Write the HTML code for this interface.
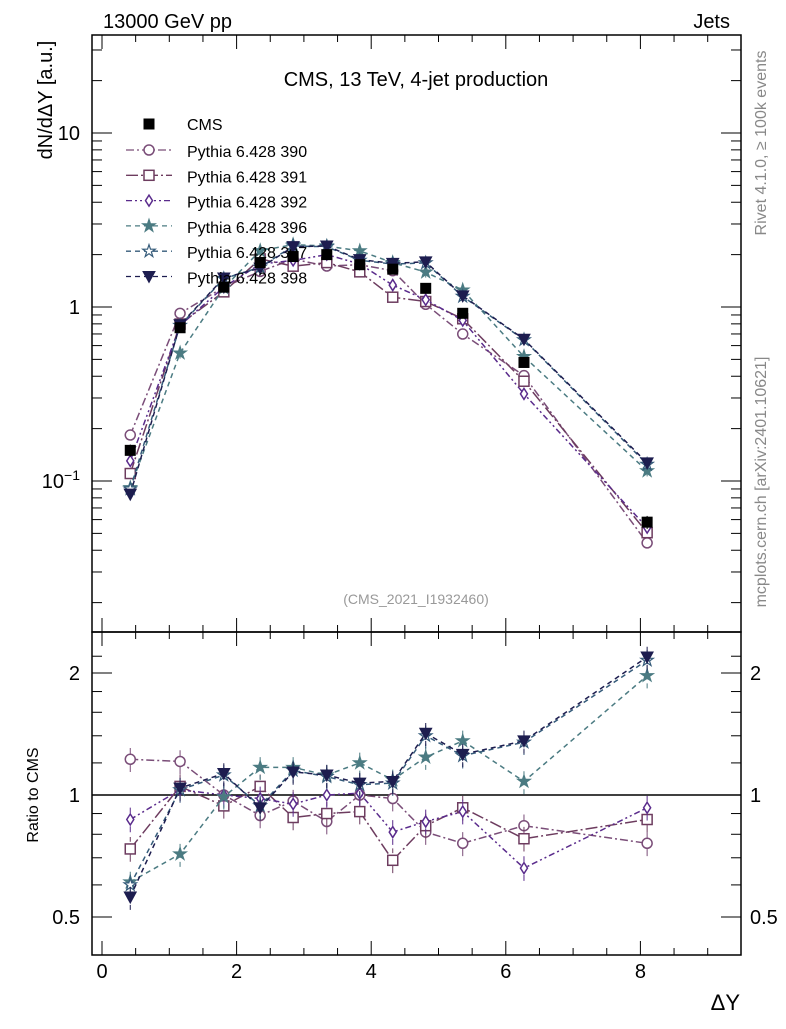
<!DOCTYPE html>
<html><head><meta charset="utf-8"><style>
body{margin:0;background:#fff}
svg text{font-family:"Liberation Sans",sans-serif}
</style></head><body>
<svg id="c" width="786" height="1024" xmlns="http://www.w3.org/2000/svg">
<rect x="0" y="0" width="786" height="1024" fill="#fff"/>
<text x="103" y="28" font-size="20">13000 GeV pp</text>
<text x="730" y="28" font-size="20" text-anchor="end">Jets</text>
<text x="416" y="86" font-size="20" text-anchor="middle">CMS, 13 TeV, 4-jet production</text>
<text x="416" y="604" font-size="14" fill="#999" text-anchor="middle">(CMS_2021_I1932460)</text>
<text transform="translate(52,100) rotate(-90)" font-size="20" text-anchor="middle">dN/dΔY [a.u.]</text>
<text transform="translate(38,795) rotate(-90)" font-size="16" text-anchor="middle">Ratio to CMS</text>
<text x="740" y="1010" font-size="22" text-anchor="end">ΔY</text>
<text transform="translate(766,143) rotate(-90)" font-size="16" fill="#888" text-anchor="middle">Rivet 4.1.0, ≥ 100k events</text>
<text transform="translate(766,482) rotate(-90)" font-size="16" fill="#888" text-anchor="middle">mcplots.cern.ch [arXiv:2401.10621]</text>
<g id="g"></g>
</svg>
<script>
const xs=[0.42,1.16,1.81,2.35,2.84,3.34,3.83,4.32,4.81,5.36,6.27,8.1];
const cms=[0.15,0.76,1.3,1.8,1.95,2.0,1.75,1.65,1.28,0.92,0.48,0.058];
const cmsErr=[0.012,0.05,0.06,0.08,0.08,0.08,0.08,0.08,0.06,0.05,0.03,0.005];
const r390=[1.225,1.21,1.0,0.89,0.966,0.86,1.0,0.98,0.81,0.76,0.84,0.76];
const r391=[0.736,1.05,0.94,1.05,0.88,0.9,0.91,0.69,0.84,0.93,0.78,0.87];
const r392=[0.87,1.03,1.0,0.98,0.95,1.0,1.01,0.81,0.86,0.91,0.66,0.93];
const r396=[0.61,0.715,0.99,1.17,1.17,1.12,1.2,1.09,1.24,1.36,1.08,1.97];
const r397=[0.6,1.03,1.12,0.94,1.15,1.11,1.06,1.07,1.4,1.25,1.35,2.15];
const r398=[0.56,1.04,1.13,0.93,1.14,1.12,1.07,1.08,1.42,1.26,1.36,2.19];
const series=[
 {n:"Pythia 6.428 390",r:r390,c:"#7a4d78",d:"8,3,2,3",m:"circle"},
 {n:"Pythia 6.428 391",r:r391,c:"#6d3c5f",d:"12,3,2,3",m:"square"},
 {n:"Pythia 6.428 392",r:r392,c:"#5a2b8c",d:"6,3,2,3,2,3",m:"diamond"},
 {n:"Pythia 6.428 396",r:r396,c:"#4b7b82",d:"5,4",m:"star"},
 {n:"Pythia 6.428 397",r:r397,c:"#355b7a",d:"5,4",m:"ostar"},
 {n:"Pythia 6.428 398",r:r398,c:"#1d1d4f",d:"5,4",m:"tri"}];
const L=92,R=741,T=35,M=632,B=955;
const X=v=>102+v*67.3;
const Y=v=>307-174*Math.log10(v);
const YR=v=>795-122*Math.log2(v);
const g=document.getElementById('g');
const NS="http://www.w3.org/2000/svg";
function el(t,a,p){const e=document.createElementNS(NS,t);for(const k in a)e.setAttribute(k,a[k]);(p||g).appendChild(e);return e;}
let f=el('rect',{x:L,y:T,width:R-L,height:M-T,fill:"none",stroke:"#000","stroke-width":1.5});


f=el('rect',{x:L,y:M,width:R-L,height:B-M,fill:"none",stroke:"#000","stroke-width":1.5});


for(let v=0;v<=9.5;v+=0.5){const maj=v%2===0;const len=maj?14:7;const x=X(v);if(x<L||x>R)continue;
 [B,M,T].forEach((yy,i)=>{el('line',{x1:x,x2:x,y1:yy,y2:i===1?yy-len:yy+(i===0?-len:len),stroke:"#000"});if(i===1)el('line',{x1:x,x2:x,y1:yy,y2:yy+len,stroke:"#000"});});
 if(maj){const t=el('text',{x:x,y:978,"font-size":20,"text-anchor":"middle"});t.textContent=v;
 
 }}
for(let e=-2;e<=1;e++)for(let k=1;k<10;k++){const v=k*Math.pow(10,e);const y=Y(v);if(y<T||y>M)continue;const len=k===1?20:10;
 el('line',{x1:L,x2:L+len,y1:y,y2:y,stroke:"#000"});el('line',{x1:R,x2:R-len,y1:y,y2:y,stroke:"#000"});}
[[10,"10"],[1,"1"]].forEach(p=>{const t=el('text',{x:80,y:Y(p[0])+7,"font-size":20,"text-anchor":"end"});t.textContent=p[1];
 
 });
{const t=el('text',{x:80,y:Y(0.1)+7,"font-size":20,"text-anchor":"end"});t.innerHTML='10<tspan dy="-8" font-size="14">−1</tspan>';
 
 }
[0.4,0.5,0.6,0.7,0.8,0.9,1,1.2,1.4,1.6,1.8,2,2.2].forEach(v=>{const y=YR(v);if(y<M||y>B)return;const maj=(v===0.5||v===1||v===2);const len=maj?20:10;
 el('line',{x1:L,x2:L+len,y1:y,y2:y,stroke:"#000"});el('line',{x1:R,x2:R-len,y1:y,y2:y,stroke:"#000"});
 if(maj){[[80,"end"],[750,"start"]].forEach(q=>{const t=el('text',{x:q[0],y:y+7,"font-size":20,"text-anchor":q[1]});t.textContent=v;
 
 });}});
el('line',{x1:L,x2:R,y1:YR(1),y2:YR(1),stroke:"#000","stroke-width":1.5});
function marker(m,x,y,c,p){const s=5;
 if(m==="circle")return el('circle',{cx:x,cy:y,r:s,fill:"#fff",stroke:c,"stroke-width":1.5},p);
 if(m==="square")return el('rect',{x:x-s,y:y-s,width:2*s,height:2*s,fill:"#fff",stroke:c,"stroke-width":1.5},p);
 if(m==="diamond")return el('polygon',{points:`${x},${y-5.5} ${x+3.5},${y} ${x},${y+5.5} ${x-3.5},${y}`,fill:"#fff",stroke:c,"stroke-width":1.5},p);
 if(m==="tri")return el('polygon',{points:`${x-6},${y-5} ${x+6},${y-5} ${x},${y+6}`,fill:c,stroke:c},p);
 let pts=[];for(let i=0;i<10;i++){const a=-Math.PI/2+i*Math.PI/5;const rr=i%2?2.5:6.5;pts.push((x+rr*Math.cos(a)).toFixed(1)+","+(y+rr*Math.sin(a)).toFixed(1));}
 return el('polygon',{points:pts.join(" "),fill:m==="star"?c:"#fff",stroke:c,"stroke-width":1.2},p);}
series.forEach((s,si)=>{
 const gm=el('g',{});
 
 
 const vals=xs.map((x,i)=>cms[i]*s.r[i]);
 el('polyline',{points:xs.map((x,i)=>X(x)+","+Y(vals[i])).join(" "),fill:"none",stroke:s.c,"stroke-width":1.5,"stroke-dasharray":s.d},gm);
 el('polyline',{points:xs.map((x,i)=>X(x)+","+YR(s.r[i])).join(" "),fill:"none",stroke:s.c,"stroke-width":1.5,"stroke-dasharray":s.d},gm);
 xs.forEach((x,i)=>{const e=0.07*s.r[i];
  el('line',{x1:X(x),x2:X(x),y1:YR(s.r[i]-e),y2:YR(s.r[i]+e),stroke:s.c,"stroke-dasharray":s.d},gm);
  el('line',{x1:X(x),x2:X(x),y1:Y(vals[i]*0.93),y2:Y(vals[i]*1.07),stroke:s.c},gm);
  const a=marker(s.m,X(x),Y(vals[i]),s.c,gm);
  
  
  const b=marker(s.m,X(x),YR(s.r[i]),s.c,gm);
  
  });
 const ly=151+si*25.3;
 const lg=el('g',{});
 
 
 el('line',{x1:126,x2:172,y1:ly-1,y2:ly-1,stroke:s.c,"stroke-width":1.3,"stroke-dasharray":s.d},lg);
 marker(s.m,149,ly-1,s.c,lg);
 const t=el('text',{x:187,y:ly+6,"font-size":16},lg);t.textContent=s.n;});
xs.forEach((x,i)=>{
 el('line',{x1:X(x),x2:X(x),y1:Y(cms[i]-cmsErr[i]),y2:Y(cms[i]+cmsErr[i]),stroke:"#000"});
 const r=el('rect',{x:X(x)-5.5,y:Y(cms[i])-5.5,width:11,height:11,fill:"#000"});
 
 });
{const lg=el('g',{});
 
 
 el('rect',{x:143.5,y:118.5,width:11,height:11,fill:"#000"},lg);
 const t=el('text',{x:187,y:130,"font-size":16},lg);t.textContent="CMS";}
</script>
</body></html>
